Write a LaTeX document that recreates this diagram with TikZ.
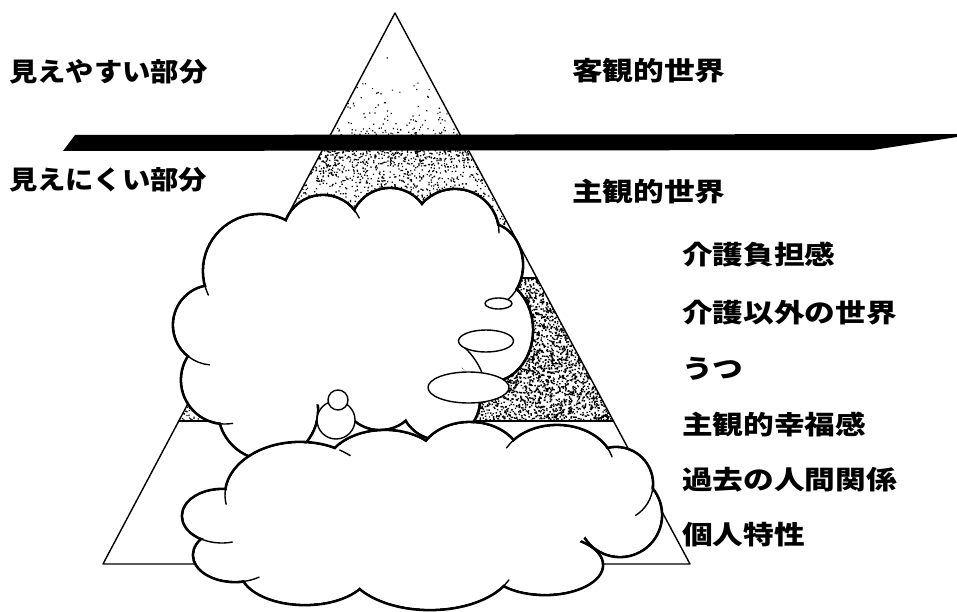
\documentclass[tikz,border=0pt]{standalone}
\usepackage{fontspec}
\usetikzlibrary{calc}
\newfontfamily\jpwide{Noto Sans CJK JP}[FakeStretch=1.18]
\newfontfamily\jpnarrow{Noto Sans CJK JP}[FakeStretch=1.09]

% lobes of the two clouds: centre x / centre y / x radius / y radius
\def\upperlobes{260/271/57/57, 323/235/40/40, 390/228/40/40, 455/233/44/44,
  488/265/35/42, 490/330/43/52, 213/325/40/40, 225/380/44/44,
  268/410/50/50, 440/400/40/40, 380/390/40/40}
\def\lowerlobes{300/495/75/53, 385/470/60/40, 470/462/52/40, 557/468/57/43,
  616/484/37/37, 620/515/42/42, 545/565/58/30, 430/562/85/48,
  305/570/65/35, 222/516/40/27, 235/555/42/27}

% short curl where one lobe runs on inside its neighbour:
% centre x, centre y, x radius, y radius, start angle, end angle
\newcommand\cloudcurl[6]{%
  \draw[curl] ({#1+#3*cos(#5)},{#2+#4*sin(#5)})
    arc [start angle=#5, end angle=#6, x radius=#3, y radius=#4];}

\begin{document}
\begin{tikzpicture}[x=1pt,y=-1pt,line join=round,line cap=round,
  edge/.style={line width=1.4pt},
  rim/.style={line width=2.8pt},
  curl/.style={line width=1.4pt},
  bubble/.style={line width=1.4pt,fill=white},
  lab/.style={anchor=base west,inner sep=0pt,
    font=\jpwide\bfseries\fontsize{26}{26}\selectfont},
  labnarrow/.style={lab,font=\jpnarrow\bfseries\fontsize{26}{26}\selectfont},
  speck/.style={fill=black}]

\useasboundingbox (0,0) rectangle (957,612);

% pyramid corners and the levels marked on it
\coordinate (apex) at (395,13);
\coordinate (bl) at (103,564);
\coordinate (br) at (690,564);
\coordinate (l278) at ($(apex)!0.48094!(bl)$);
\coordinate (r278) at ($(apex)!0.48094!(br)$);
\coordinate (l421) at ($(apex)!0.74047!(bl)$);
\coordinate (r421) at ($(apex)!0.74047!(br)$);

% screen-tone stippling inside the pyramid
\pgfmathsetseed{4321}
\begin{scope}
  \clip (apex) -- (bl) -- (br) -- cycle;
  \fill[speck] foreach \i in {1,...,170}
    { ({320+150*rnd},{134-80*rnd*rnd}) rectangle ++(1.2,1.2) };
  \fill[speck] foreach \i in {1,...,2000}
    { ({240+300*rnd},{150+130*rnd*rnd}) rectangle ++(1.3,1.3) };
  \begin{scope}
    \clip (0,278) rectangle (957,421);
    \fill[speck] foreach \i in {1,...,5400}
      { ({430+185*rnd},{278+143*rnd}) rectangle ++(1.4,1.4) };
    \fill[speck] foreach \i in {1,...,90}
      { ({176+30*rnd},{395+26*rnd}) rectangle ++(1.3,1.3) };
  \end{scope}
\end{scope}

% pyramid outline and level lines
\draw[edge] (apex) -- (bl) -- (br) -- cycle;
\draw[edge] (l278) -- (r278);
\draw[edge] (l421) -- (r421);

% thick divider between the visible and the hidden part
\fill (63,151) -- (75,135) -- (957,134) -- (957,137) -- (873,150) -- cycle;

% upper cloud: stroke every lobe, then clear the inside so only the rim stays
\foreach \cx/\cy/\rx/\ry in \upperlobes
  {\draw[rim] (\cx,\cy) ellipse [x radius=\rx, y radius=\ry];}
\foreach \cx/\cy/\rx/\ry in \upperlobes
  {\fill[white] (\cx,\cy) ellipse [x radius=\rx-1.4, y radius=\ry-1.4];}
\fill[white] (360,320) ellipse [x radius=120, y radius=90];

% curls inside the upper cloud
\cloudcurl{260}{271}{57}{57}{166}{155}
\cloudcurl{213}{325}{40}{40}{128}{95}
\cloudcurl{225}{380}{44}{44}{97}{80}
\cloudcurl{323}{235}{40}{40}{-40}{-25}
\cloudcurl{455}{233}{44}{44}{-16}{0}
\cloudcurl{488}{265}{35}{42}{0}{62}
\draw[curl] (460,343) .. controls (470,352) and (478,362) .. (482,373);

% trail of small bubbles
\draw[bubble] (498.5,303.5) ellipse [x radius=13.5, y radius=5.5];
\draw[bubble] (486,341) ellipse [x radius=27.5, y radius=11];
\draw[bubble] (468.5,387.5) ellipse [x radius=40.5, y radius=15.5];

% small figure sitting on the lower cloud
\draw[bubble] (336,420) circle [radius=19];
\draw[bubble] (338,400) circle [radius=10];

% lower cloud, drawn the same way
\foreach \cx/\cy/\rx/\ry in \lowerlobes
  {\draw[rim] (\cx,\cy) ellipse [x radius=\rx, y radius=\ry];}
\foreach \cx/\cy/\rx/\ry in \lowerlobes
  {\fill[white] (\cx,\cy) ellipse [x radius=\rx-1.4, y radius=\ry-1.4];}
\fill[white] (420,515) ellipse [x radius=175, y radius=65];

% curls inside the lower cloud
\cloudcurl{300}{495}{75}{53}{-58}{-48}
\cloudcurl{300}{495}{75}{53}{187}{170}
\cloudcurl{557}{468}{57}{43}{-139}{-152}
\cloudcurl{557}{468}{57}{43}{-28}{-15}
\cloudcurl{616}{484}{37}{37}{5}{58}
\cloudcurl{430}{562}{85}{48}{38}{22}
\cloudcurl{222}{516}{40}{27}{125}{75}
\cloudcurl{235}{555}{42}{27}{80}{55}

% labels
\node[labnarrow] (seen) at (9,82) {見えやすい部分};
\node[labnarrow] (unseen) at (9,190) {見えにくい部分};
\node[lab] (objective) at (572,81) {客観的世界};
\node[lab] (subjective) at (572,202) {主観的世界};
\node[lab] (burden) at (682,264) {介護負担感};
\node[lab] (outside) at (682,322) {介護以外の世界};
\node[lab] (depression) at (682,378) {うつ};
\node[lab] (wellbeing) at (682,434) {主観的幸福感};
\node[lab] (relations) at (682,489) {過去の人間関係};
\node[lab] (traits) at (682,544) {個人特性};
\end{tikzpicture}
\end{document}
